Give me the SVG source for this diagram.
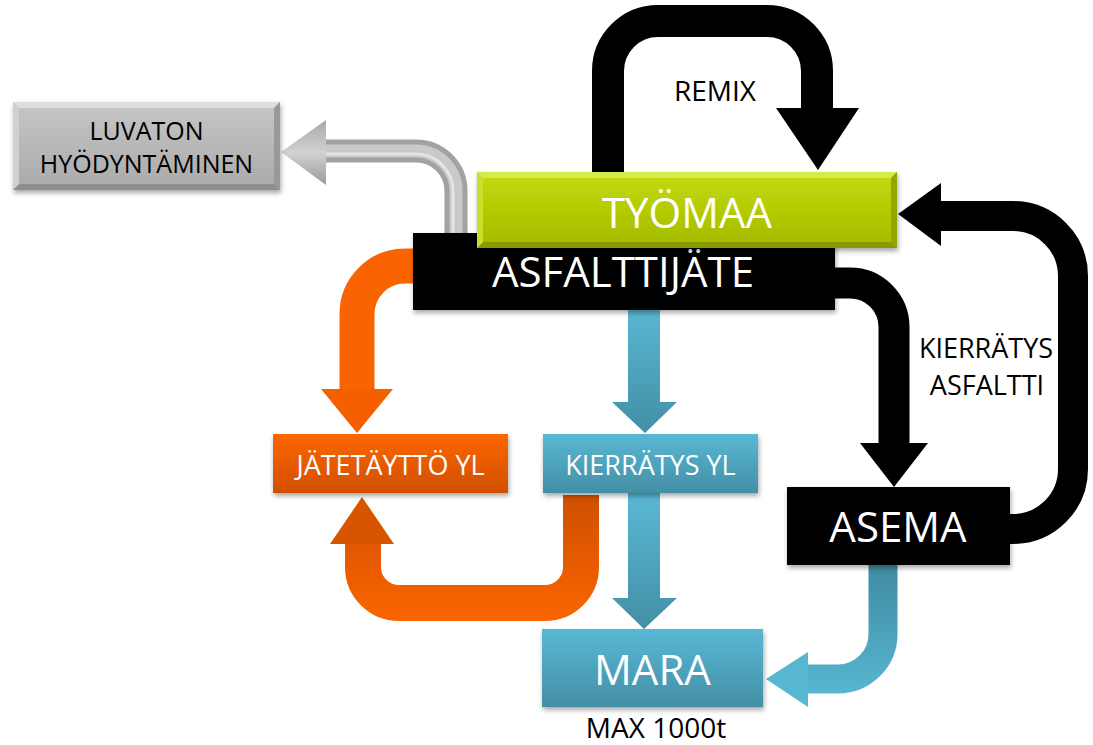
<svg xmlns="http://www.w3.org/2000/svg" width="1093" height="745" viewBox="0 0 1093 745">
<defs>
  <style>
    .t { font-family: "Open Sans", "Noto Sans", sans-serif; text-anchor: middle; }
    .w { fill: #ffffff; }
    .k { fill: #000000; }
    .big { font-size: 42px; }
    .mid { font-size: 27px; }
    .lab { font-size: 28px; }
    .blk { fill: none; stroke: #000; }
  </style>
  <filter id="sh" x="-10%" y="-10%" width="120%" height="130%">
    <feDropShadow dx="1" dy="3" stdDeviation="2.5" flood-color="#000" flood-opacity="0.35"/>
  </filter>
  <linearGradient id="gGreen" x1="0" y1="0" x2="0" y2="1">
    <stop offset="0" stop-color="#c4da12"/>
    <stop offset="0.5" stop-color="#b4cb03"/>
    <stop offset="1" stop-color="#a3b900"/>
  </linearGradient>
  <linearGradient id="gGray" x1="0" y1="0" x2="0" y2="1">
    <stop offset="0" stop-color="#c6c6c6"/>
    <stop offset="1" stop-color="#aaaaaa"/>
  </linearGradient>
  <linearGradient id="gOrange" x1="0" y1="0" x2="0" y2="1">
    <stop offset="0" stop-color="#fb6700"/>
    <stop offset="1" stop-color="#d24f00"/>
  </linearGradient>
  <linearGradient id="gBlue" x1="0" y1="0" x2="0" y2="1">
    <stop offset="0" stop-color="#59b8d4"/>
    <stop offset="1" stop-color="#438fa5"/>
  </linearGradient>
  <linearGradient id="gBlueUp" gradientUnits="userSpaceOnUse" x1="0" y1="565" x2="0" y2="700">
    <stop offset="0" stop-color="#3f8ba1"/>
    <stop offset="1" stop-color="#58b8d4"/>
  </linearGradient>
  <linearGradient id="gOrRet" gradientUnits="userSpaceOnUse" x1="0" y1="495" x2="0" y2="620">
    <stop offset="0" stop-color="#cf4f00"/>
    <stop offset="1" stop-color="#fb6500"/>
  </linearGradient>
  <linearGradient id="gGrayHead" x1="0" y1="0" x2="0" y2="1">
    <stop offset="0" stop-color="#a8a8a8"/>
    <stop offset="0.5" stop-color="#d2d2d2"/>
    <stop offset="1" stop-color="#9a9a9a"/>
  </linearGradient>
</defs>

<g id="connectors">
  <!-- gray: ASFALTTIJÄTE -> LUVATON -->
  <g id="c-luvaton">
    <path d="M 456 240 V 191 A 40 40 0 0 0 416 151 H 322" fill="none" stroke="#a2a2a2" stroke-width="23"/>
    <path d="M 456 240 V 191 A 40 40 0 0 0 416 151 H 322" fill="none" stroke="#c9c9c9" stroke-width="13"/>
    <path d="M 453 240 V 191 A 37 37 0 0 0 416 154 H 322" fill="none" stroke="#e4e4e4" stroke-width="3"/>
    <polygon points="326,120 326,185 281,152" fill="url(#gGrayHead)"/>
  </g>
  <!-- REMIX loop -->
  <g id="c-remix">
    <path class="blk" d="M 608 182 V 71 A 50 50 0 0 1 658 21 H 767 A 50 50 0 0 1 817 71 V 110" stroke-width="32"/>
    <polygon points="776,108 859,108 818,170" fill="#000"/>
  </g>
  <!-- ASFALTTIJÄTE -> ASEMA -->
  <g id="c-kierratys-asfaltti">
    <path class="blk" d="M 826 283 H 850 A 44 44 0 0 1 894 327 V 446" stroke-width="31"/>
    <polygon points="860,443 928,443 894,487" fill="#000"/>
  </g>
  <!-- ASEMA -> TYÖMAA -->
  <g id="c-asema-tyomaa">
    <path class="blk" d="M 1005 529 H 1013 A 60 60 0 0 0 1073 469 V 276 A 60 60 0 0 0 1013 216 H 937" stroke-width="30"/>
    <polygon points="941,183 941,246 898,214" fill="#000"/>
  </g>
  <!-- ASFALTTIJÄTE -> JÄTETÄYTTÖ -->
  <g id="c-jatetaytto">
    <path d="M 425 266 H 405 A 48 48 0 0 0 357 314 V 392" fill="none" stroke="#f96300" stroke-width="35"/>
    <polygon points="321,389 393,389 357,433" fill="#f55f00"/>
  </g>
  <!-- KIERRÄTYS YL -> JÄTETÄYTTÖ (return) -->
  <g id="c-return">
    <path d="M 581 495 V 567 A 36 36 0 0 1 545 603 H 399 A 36 36 0 0 1 363 567 V 540" fill="none" stroke="url(#gOrRet)" stroke-width="36"/>
    <polygon points="330,544 394,544 362,497" fill="#d85500"/>
  </g>
  <!-- ASFALTTIJÄTE -> KIERRÄTYS YL -->
  <polygon id="c-kierratys-yl" points="628,305 660,305 660,402 677,402 645,433 612,402 628,402" fill="url(#gBlue)"/>
  <!-- KIERRÄTYS YL -> MARA -->
  <polygon id="c-mara" points="628,493 660,493 660,598 677,598 644,629 612,598 628,598" fill="url(#gBlue)"/>
  <!-- ASEMA -> MARA -->
  <g id="c-asema-mara">
    <path d="M 883 560 V 634 A 45 45 0 0 1 838 679 H 805" fill="none" stroke="url(#gBlueUp)" stroke-width="29"/>
    <polygon points="808,652 808,707 766,679" fill="#57b6d2"/>
  </g>
</g>

<g id="luvaton">
  <g filter="url(#sh)">
    <rect x="13" y="102" width="267" height="88" fill="url(#gGray)"/>
  </g>
  <polygon points="13,102 280,102 274,108 19,108" fill="#dedede"/>
  <polygon points="13,190 280,190 274,184 19,184" fill="#8e8e8e"/>
  <polygon points="13,102 19,108 19,184 13,190" fill="#d0d0d0"/>
  <polygon points="280,102 274,108 274,184 280,190" fill="#999999"/>
  <text class="t k" font-size="25" x="146.5" y="140">LUVATON</text>
  <text class="t k" font-size="25" x="146.5" y="173">HYÖDYNTÄMINEN</text>
</g>

<g id="asfalttijate">
  <rect x="413" y="233" width="422" height="77" fill="#000" filter="url(#sh)"/>
  <text class="t w big" x="623" y="287">ASFALTTIJÄTE</text>
</g>

<g id="tyomaa">
  <rect x="477" y="172" width="420" height="76" fill="url(#gGreen)" filter="url(#sh)"/>
  <polygon points="477,172 897,172 891,178 483,178" fill="#d6ea4a"/>
  <polygon points="477,248 897,248 891,242 483,242" fill="#879a00"/>
  <polygon points="477,172 483,178 483,242 477,248" fill="#c9df2a"/>
  <polygon points="897,172 891,178 891,242 897,248" fill="#93a700"/>
  <text class="t w big" x="687" y="228">TYÖMAA</text>
</g>

<g id="jatetaytto">
  <rect x="273" y="434" width="235" height="59" fill="url(#gOrange)" filter="url(#sh)"/>
  <text class="t w mid" x="390.5" y="475">JÄTETÄYTTÖ YL</text>
</g>

<g id="kierratys-yl">
  <rect x="543" y="434" width="215" height="59" fill="url(#gBlue)" filter="url(#sh)"/>
  <text class="t w mid" x="650.5" y="475">KIERRÄTYS YL</text>
</g>

<g id="asema">
  <rect x="787" y="487" width="223" height="78" fill="#000" filter="url(#sh)"/>
  <text class="t w big" x="898" y="542">ASEMA</text>
</g>

<g id="mara">
  <rect x="542" y="629" width="221" height="78" fill="url(#gBlue)" filter="url(#sh)"/>
  <text class="t w big" x="652.5" y="685">MARA</text>
</g>

<g id="labels">
  <text class="t k lab" x="715" y="101">REMIX</text>
  <text class="t k mid" x="986" y="358">KIERRÄTYS</text>
  <text class="t k mid" x="987" y="395">ASFALTTI</text>
  <text class="t k lab" x="656" y="738">MAX 1000t</text>
</g>
</svg>
